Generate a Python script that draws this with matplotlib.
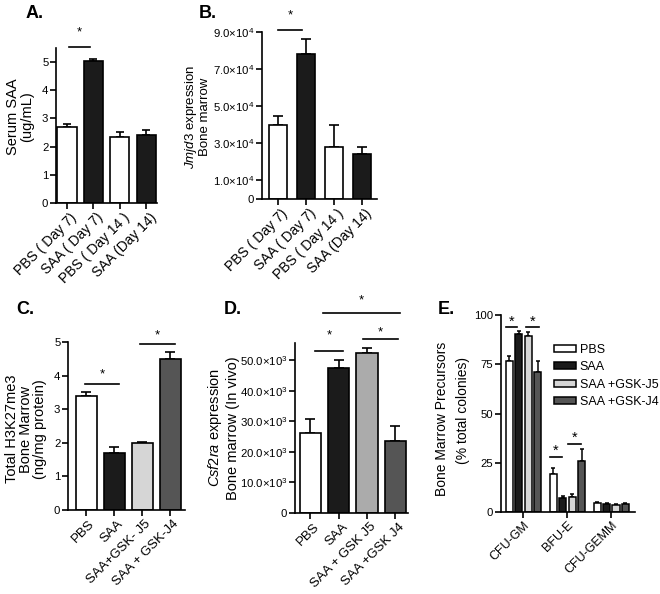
import numpy as np
import matplotlib
matplotlib.use('Agg')
import matplotlib.pyplot as plt
import matplotlib.transforms as mtransforms
from matplotlib.patches import Patch

plt.rcParams['font.family'] = ['Liberation Sans', 'DejaVu Sans']
plt.rcParams['mathtext.fontset'] = 'custom'
plt.rcParams['mathtext.rm'] = 'Liberation Sans'
plt.rcParams['mathtext.it'] = 'Liberation Sans:italic'
plt.rcParams['mathtext.bf'] = 'Liberation Sans:bold'

W, H = 660, 594

# ---- data ----
a_labels = ['PBS ( Day 7)', 'SAA ( Day 7)', 'PBS ( Day 14 )', 'SAA (Day 14)']
a_vals = [2.70, 5.05, 2.33, 2.40]
a_err = [0.12, 0.05, 0.18, 0.20]

b_labels = ['PBS ( Day 7)', 'SAA ( Day 7)', 'PBS ( Day 14 )', 'SAA (Day 14)']
b_vals = [3.98e4, 7.80e4, 2.80e4, 2.40e4]
b_err = [0.48e4, 0.80e4, 1.20e4, 0.40e4]

c_labels = ['PBS', 'SAA', 'SAA+GSK- J5', 'SAA + GSK-J4']
c_vals = [3.40, 1.71, 1.98, 4.50]
c_err = [0.11, 0.16, 0.04, 0.20]

d_labels = ['PBS', 'SAA', 'SAA + GSK J5', 'SAA +GSK J4']
d_vals = [26.3e3, 47.5e3, 52.2e3, 23.4e3]
d_err = [4.5e3, 2.4e3, 1.9e3, 4.9e3]

e_groups = ['CFU-GM', 'BFU-E', 'CFU-GEMM']
e_series = ['PBS', 'SAA', 'SAA +GSK-J5', 'SAA +GSK-J4']
e_pbs = [76.6, 19.3, 4.7]
e_saa = [90.4, 7.3, 4.0]
e_j5 = [89.5, 7.8, 3.6]
e_j4 = [70.9, 25.9, 4.0]
e_pbs_err = [2.4, 3.2, 0.6]
e_saa_err = [1.5, 0.8, 0.6]
e_j5_err = [1.7, 1.2, 0.6]
e_j4_err = [5.7, 6.1, 0.6]

# significance lines: (x_start, x_end, y_line, y_star)
a_sig = [(0.08, 0.87, 5.53, 6.05)]
b_sig = [(0.0, 0.86, 9.1e4, 9.9e4)]
c_sig = [(-0.05, 1.16, 3.76, 4.02), (1.91, 3.16, 4.93, 5.2)]
d_sig = [(0.18, 1.15, 53e3, 58e3), (1.86, 3.09, 57e3, 59.2e3), (0.46, 3.16, 65.3e3, 69.5e3)]
e_sig = [(-0.39, -0.14, 93.7, 96.8), (0.05, 0.36, 93.7, 96.8),
         (0.60, 0.87, 28.0, 31.0), (1.01, 1.30, 34.5, 37.5)]

WHITE = 'white'
BLACK = '#1b1b1b'
LGRAY = '#d6d6d6'
MGRAY = '#ababab'
DGRAY = '#555555'


def add_axes(fig, l, t, r, b):
    return fig.add_axes([l / W, 1 - b / H, (r - l) / W, (b - t) / H])


def style(ax):
    for s in ['top', 'right']:
        ax.spines[s].set_visible(False)
    for s in ['left', 'bottom']:
        ax.spines[s].set_linewidth(1.2)
    ax.tick_params(direction='out', width=1.2, length=4, labelsize=8.2, pad=1.5)


def set_xlabels(ax, fig, labels, fs, dx):
    ax.set_xticklabels(labels, rotation=45, ha='right', rotation_mode='anchor', fontsize=fs)
    off = mtransforms.ScaledTranslation(dx / 100, 0, fig.dpi_scale_trans)
    for lab in ax.get_xticklabels():
        lab.set_transform(lab.get_transform() + off)


def draw_bars(ax, vals, err, colors, width, capsize):
    x = np.arange(len(vals))
    ax.bar(x, vals, width=width, color=colors, edgecolor='black', linewidth=1.2, zorder=2)
    ax.errorbar(x, vals, yerr=[np.zeros(len(err)), err], fmt='none', ecolor='black',
                elinewidth=1.2, capsize=capsize, capthick=1.2, zorder=1)
    ax.set_xticks(x)


def draw_sig(ax, sig, fs=9.5):
    for x1, x2, yl, ys in sig:
        ax.plot([x1, x2], [yl, yl], color='black', lw=1.2, clip_on=False)
        ax.text((x1 + x2) / 2, ys, '*', ha='center', va='center', fontsize=fs, clip_on=False)


def ylabel(fig, x, y, s, fs=10.5, ls=1.0):
    fig.text(x / W, 1 - y / H, s, rotation=90, ha='center', va='center',
             multialignment='center', fontsize=fs, linespacing=ls)


def panel(fig, x, y, s):
    fig.text(x / W, 1 - y / H, s, fontsize=13, fontweight='bold', va='center')


fig = plt.figure(figsize=(W / 100, H / 100), dpi=100)

# ---- A ----
ax = add_axes(fig, 56, 48, 157, 203)
style(ax)
draw_bars(ax, a_vals, a_err, [WHITE, BLACK, WHITE, BLACK], 0.72, 3.2)
set_xlabels(ax, fig, a_labels, 10, 3)
ax.set_xlim(-0.415, 3.4)
ax.set_ylim(0, 5.5)
ax.set_yticks([0, 1, 2, 3, 4, 5])
draw_sig(ax, a_sig)
ylabel(fig, 20, 117, 'Serum SAA\n(ug/mL)')
panel(fig, 26, 14, 'A.')

# ---- B ----
ax = add_axes(fig, 262, 32, 377, 199)
style(ax)
draw_bars(ax, b_vals, b_err, [WHITE, BLACK, WHITE, BLACK], 0.66, 3.6)
set_xlabels(ax, fig, b_labels, 10, 3)
ax.set_xlim(-0.57, 3.54)
ax.set_ylim(0, 9e4)
bt = [0, 1e4, 3e4, 5e4, 7e4, 9e4]
ax.set_yticks(bt)
ax.set_yticklabels([('$%.1f{\\times}10^{4}$' % (v / 1e4)) if v else '0' for v in bt])
draw_sig(ax, b_sig)
ylabel(fig, 197, 117, '$\\it{Jmjd3}$ expression\nBone marrow', fs=9.5, ls=1.05)
panel(fig, 199, 14, 'B.')

# ---- C ----
ax = add_axes(fig, 68, 342, 185, 510)
style(ax)
draw_bars(ax, c_vals, c_err, [WHITE, BLACK, LGRAY, DGRAY], 0.75, 3.4)
set_xlabels(ax, fig, c_labels, 9.5, 2)
ax.set_xlim(-0.66, 3.52)
ax.set_ylim(0, 5)
ax.set_yticks([0, 1, 2, 3, 4, 5])
draw_sig(ax, c_sig)
ylabel(fig, 26, 429, 'Total H3K27me3\nBone Marrow\n(ng/mg protein)')
panel(fig, 16, 309, 'C.')

# ---- D ----
ax = add_axes(fig, 295, 343, 408, 513)
style(ax)
draw_bars(ax, d_vals, d_err, [WHITE, BLACK, MGRAY, DGRAY], 0.74, 3.4)
set_xlabels(ax, fig, d_labels, 9.5, 3)
ax.set_xlim(-0.53, 3.44)
ax.set_ylim(0, 55.6e3)
dt = [0, 10e3, 20e3, 30e3, 40e3, 50e3]
ax.set_yticks(dt)
ax.set_yticklabels([('$%.1f{\\times}10^{3}$' % (v / 1e3)) if v else '0' for v in dt])
draw_sig(ax, d_sig)
ylabel(fig, 223, 428, '$\\it{Csf2ra}$ expression\nBone marrow (In vivo)', ls=1.1)
panel(fig, 224, 309, 'D.')

# ---- E ----
ax = add_axes(fig, 501, 315, 635, 512)
style(ax)
gx = np.arange(len(e_groups))
e_vals = [e_pbs, e_saa, e_j5, e_j4]
e_errs = [e_pbs_err, e_saa_err, e_j5_err, e_j4_err]
e_cols = [WHITE, BLACK, LGRAY, DGRAY]
step = 0.215
for i in range(4):
    xs = gx + (i - 1.5) * step
    ax.bar(xs, e_vals[i], width=0.16, color=e_cols[i], edgecolor='black', linewidth=1.1,
           zorder=2, label=e_series[i])
    ax.errorbar(xs, e_vals[i], yerr=[np.zeros(3), e_errs[i]], fmt='none', ecolor='black',
                elinewidth=1.1, capsize=1.6, capthick=1.1, zorder=1)
ax.set_xticks(gx)
set_xlabels(ax, fig, e_groups, 9, 0)
ax.set_xlim(-0.51, 2.54)
ax.set_ylim(0, 100)
ax.set_yticks([0, 25, 50, 75, 100])
draw_sig(ax, e_sig, fs=10.5)
handles = [Patch(facecolor=c, edgecolor='black', linewidth=1.1) for c in e_cols]
ax.legend(handles, e_series, loc='upper left', bbox_to_anchor=(554 / W, 1 - 344 / H),
          bbox_transform=fig.transFigure, frameon=False, fontsize=9, handlelength=1.75,
          handleheight=0.5, handletextpad=0.3, labelspacing=0.42, borderpad=0, borderaxespad=0)
ylabel(fig, 442, 419, 'Bone Marrow Precursors', fs=10)
ylabel(fig, 463, 410, '(% total colonies)', fs=10)
panel(fig, 438, 309, 'E.')

fig.savefig('out.png', dpi=100)
